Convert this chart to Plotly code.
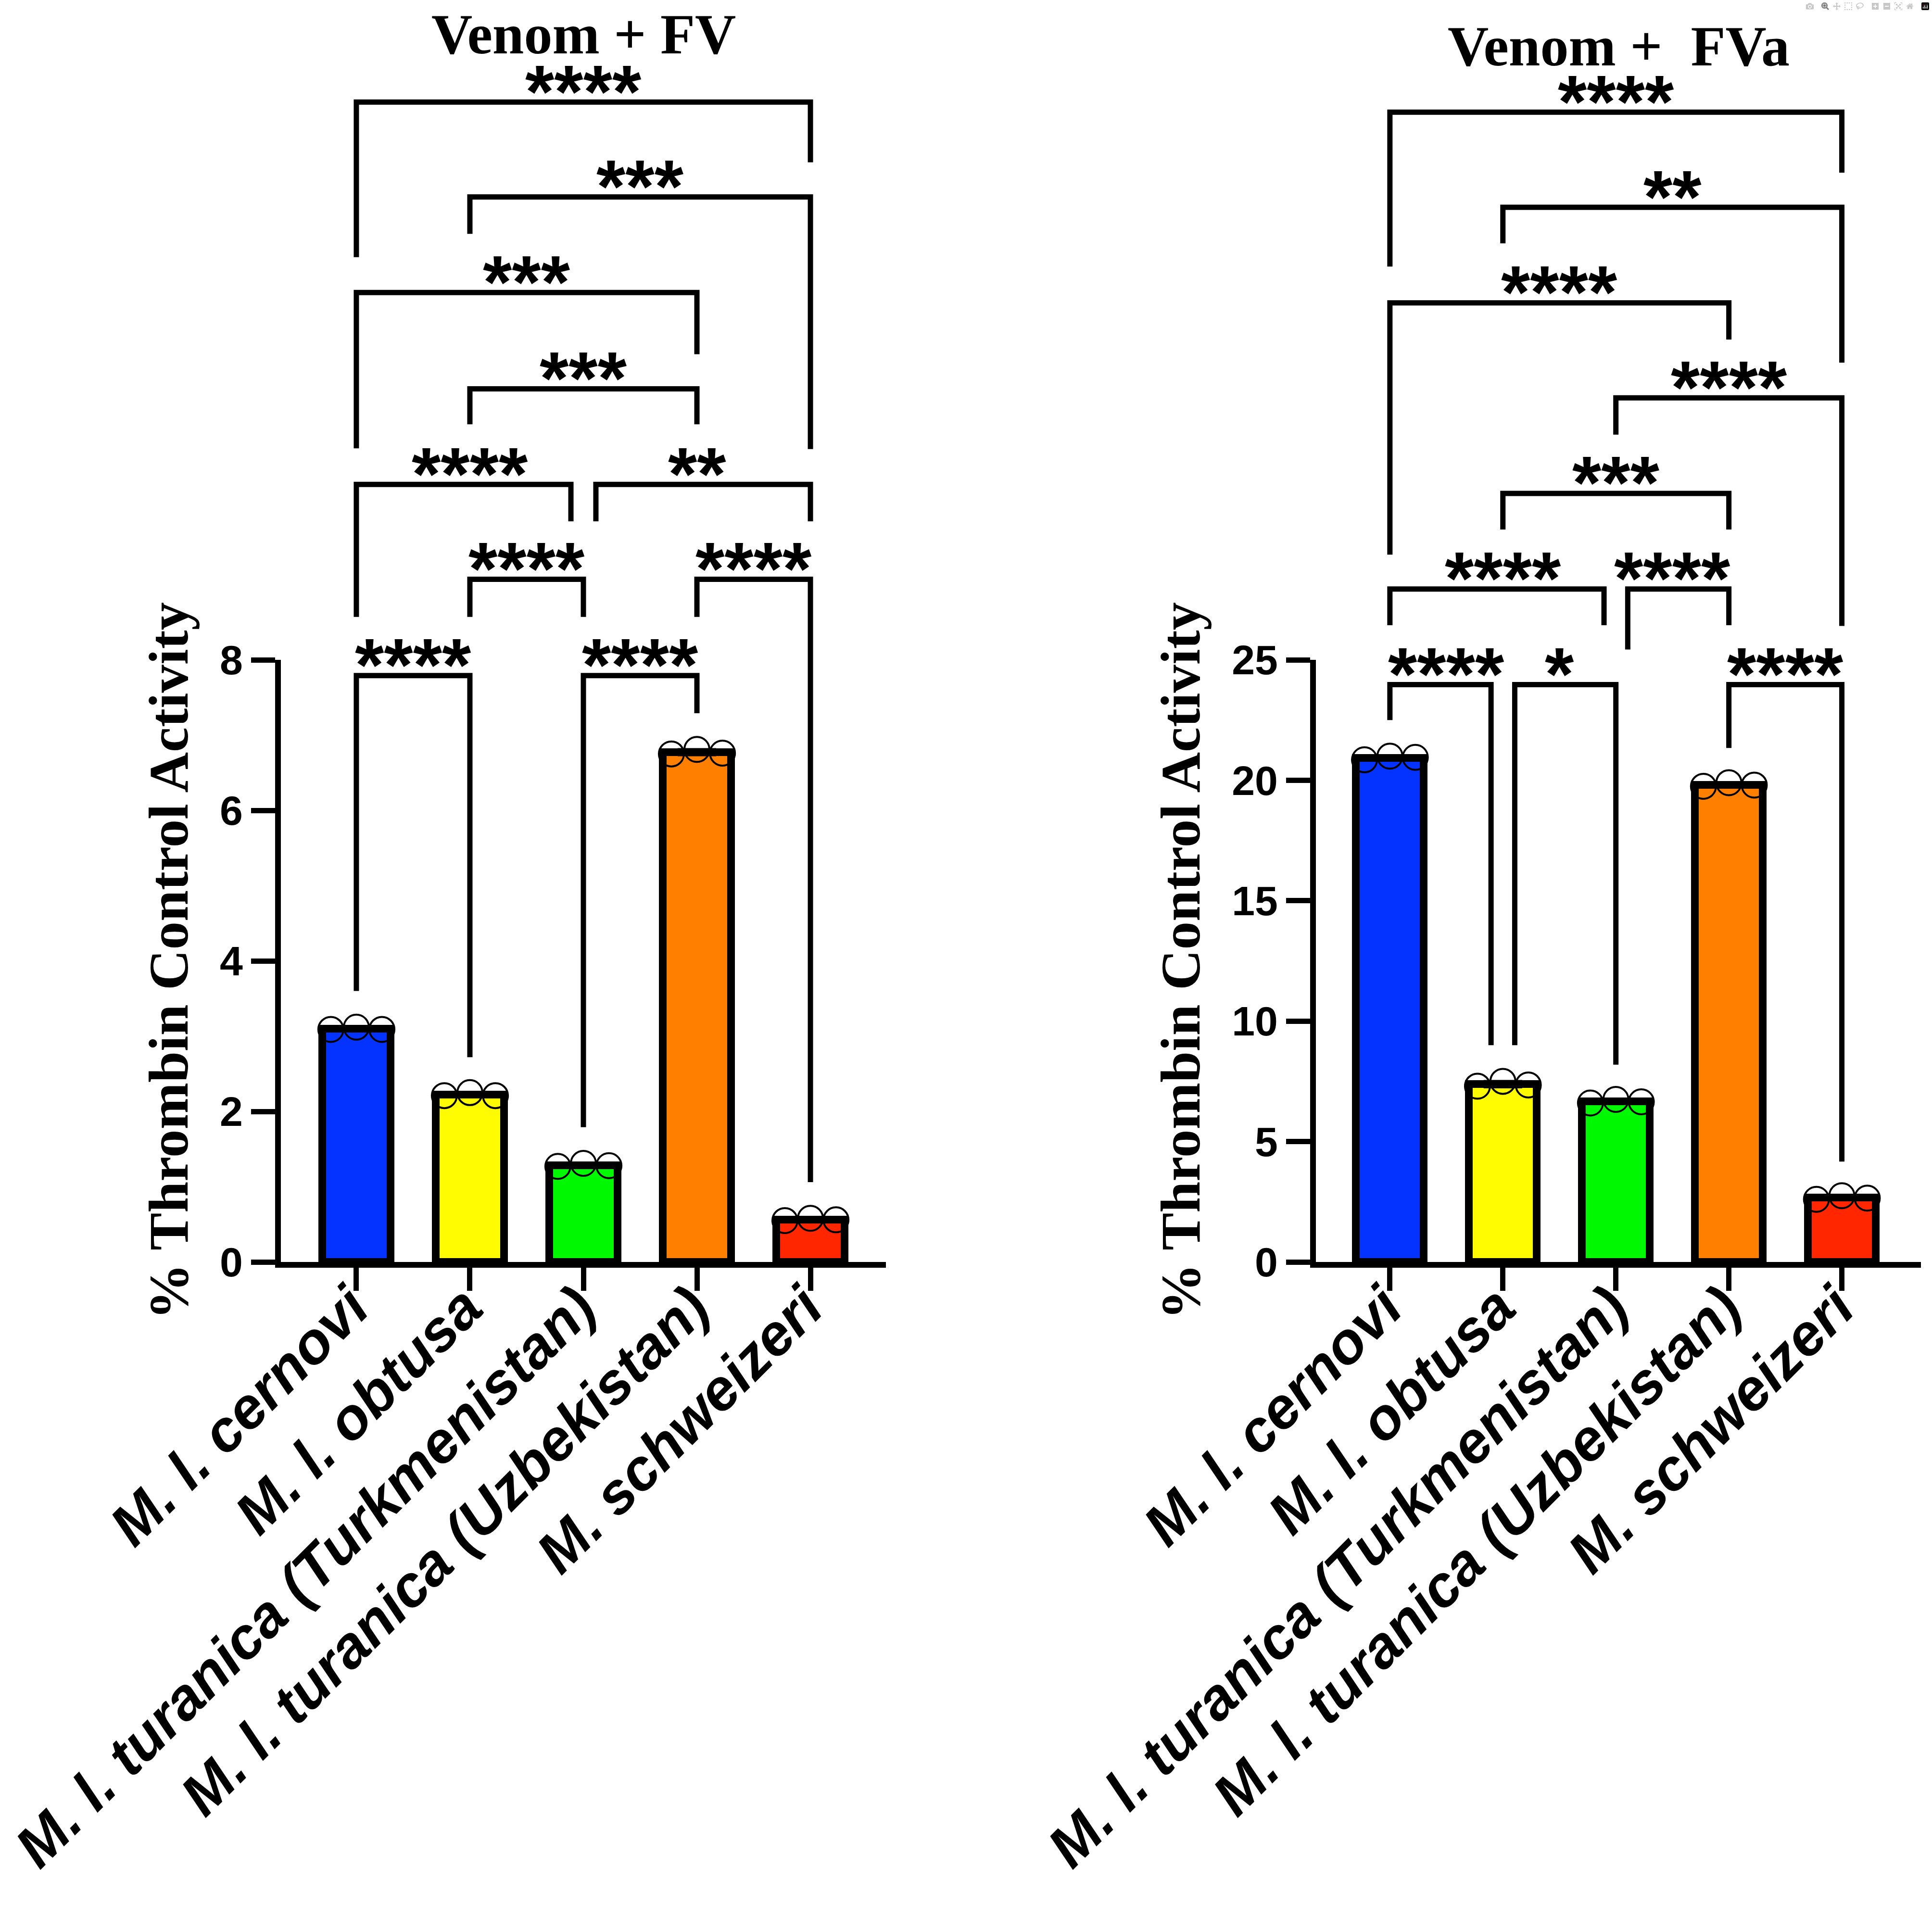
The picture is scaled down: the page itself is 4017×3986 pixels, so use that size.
import numpy as np
import plotly.graph_objects as go

W, H = 4017, 3986

species = ["M. l. cernovi", "M. l. obtusa", "M. l. turanica (Turkmenistan)",
           "M. l. turanica (Uzbekistan)", "M. schweizeri"]
colors = ["#0433FF", "#FFFB00", "#00F900", "#FF7F00", "#FF2600"]

# replicate readings, % thrombin control activity
fv_reps = [[3.09, 3.12, 3.09], [2.21, 2.25, 2.21], [1.27, 1.31, 1.28],
           [6.75, 6.81, 6.76], [0.55, 0.58, 0.56]]
fva_reps = [[20.85, 21.0, 20.95], [7.3, 7.5, 7.35], [6.6, 6.75, 6.65],
            [19.75, 19.9, 19.8], [2.6, 2.75, 2.65]]

# comparison brackets: (group a, group b, bar height, leg a end, leg b end, label, leg a shift, leg b shift)
fv_brackets = [
    (0, 4, 15.41, 13.35, 14.61, "****", 0, 0),
    (1, 4, 14.15, 13.66, 10.80, "***", 0, 0),
    (0, 3, 12.88, 10.81, 12.06, "***", 0, 0),
    (1, 3, 11.60, 11.13, 11.13, "***", 0, 0),
    (0, 2, 10.33, 8.57, 9.84, "****", 0, -0.11),
    (2, 4, 10.33, 9.84, 9.84, "**", 0.11, 0),
    (1, 2, 9.07, 8.57, 8.57, "****", 0, 0),
    (3, 4, 9.07, 8.57, 1.06, "****", 0, 0),
    (0, 1, 7.79, 3.60, 2.72, "****", 0, 0),
    (2, 3, 7.79, 1.79, 7.29, "****", 0, 0),
]
fva_brackets = [
    (0, 4, 47.74, 41.33, 45.23, "****", 0, 0),
    (1, 4, 43.79, 42.29, 37.34, "**", 0, 0),
    (0, 3, 39.82, 29.37, 38.30, "****", 0, 0),
    (2, 4, 35.88, 34.35, 26.41, "****", 0, 0),
    (1, 3, 31.91, 30.41, 30.41, "***", 0, 0),
    (0, 2, 27.94, 26.44, 26.44, "****", 0, -0.105),
    (2, 3, 27.94, 25.43, 26.44, "****", 0.105, 0),
    (0, 1, 23.97, 22.50, 9.00, "****", 0, -0.105),
    (1, 2, 23.97, 9.00, 8.19, "*", 0.105, 0),
    (3, 4, 23.97, 21.34, 4.17, "****", 0, 0),
]

fv_ticks = [0, 2, 4, 6, 8]
fva_ticks = [0, 5, 10, 15, 20, 25]

y_dom = [1 - 2624 / H, 1 - 1372 / H]
panels = [
    dict(reps=fv_reps, br=fv_brackets, ticks=fv_ticks, top=8, title="Venom + FV",
         dom=[584 / W, 1842 / W], rng=[-0.665, 4.665], xa="x", ya="y", ox="x3", oy="y3",
         title_y=1 - 72 / H, ytitle_x=350 / W),
    dict(reps=fva_reps, br=fva_brackets, ticks=fva_ticks, top=25, title="Venom +  FVa",
         dom=[2736 / W, 3994 / W], rng=[-0.655, 4.70], xa="x2", ya="y2", ox="x4", oy="y4",
         title_y=1 - 97 / H, ytitle_x=2454 / W),
]

fig = go.Figure()
jitter = [-0.225, 0.0, 0.225]
xs = np.arange(len(species))

for p in panels:
    reps = np.array(p["reps"])
    means = reps.mean(axis=1)
    sds = reps.std(axis=1, ddof=1)
    fig.add_trace(go.Bar(x=xs, y=means, width=0.6, marker=dict(color=colors, line=dict(color="black", width=16)),
                         error_y=dict(type="data", array=sds, color="black", thickness=7, width=40),
                         xaxis=p["xa"], yaxis=p["ya"], showlegend=False))
    for j, dx in enumerate(jitter):
        fig.add_trace(go.Scatter(x=xs + dx, y=reps[:, j], mode="markers", cliponaxis=False,
                                 marker=dict(symbol="circle-open", size=52, color="black", line=dict(width=4)),
                                 xaxis=p["xa"], yaxis=p["ya"], showlegend=False))
    for a, b, yb, ea, eb, lab, sa, sb in p["br"]:
        fig.add_trace(go.Scatter(x=[a + sa, a + sa, b + sb, b + sb], y=[ea, yb, yb, eb], mode="lines",
                                 line=dict(color="black", width=11), xaxis=p["ox"], yaxis=p["oy"],
                                 showlegend=False))
        fig.add_annotation(x=(a + b) / 2, y=yb, xref=p["ox"], yref=p["oy"], text=lab, showarrow=False,
                           xanchor="center", yanchor="middle", yshift=22,
                           font=dict(family="Liberation Sans", size=155, color="black", weight="bold"))
    fig.add_annotation(x=0.5, xref=p["xa"] + " domain", y=p["title_y"], yref="paper", text=p["title"],
                       showarrow=False, xanchor="center", yanchor="middle",
                       font=dict(family="Liberation Serif", size=118, color="black", weight="bold"))
    fig.add_annotation(x=p["ytitle_x"], xref="paper", y=0.5, yref=p["ya"] + " domain",
                       text="% Thrombin Control Activity", textangle=-90, showarrow=False,
                       xanchor="center", yanchor="middle",
                       font=dict(family="Liberation Serif", size=117, color="black", weight="bold"))

axis_common = dict(showgrid=False, zeroline=False, showline=True, linecolor="black", linewidth=12,
                   ticks="outside", tickcolor="black", tickwidth=11, automargin=False)
xfont = dict(family="Liberation Sans", size=121, color="black", weight="bold", style="italic")
yfont = dict(family="Liberation Sans", size=86, color="black", weight="bold")

layout = dict(width=W, height=H, margin=dict(l=0, r=0, t=0, b=0), plot_bgcolor="rgba(0,0,0,0)",
              paper_bgcolor="white", showlegend=False, bargap=0)
for i, p in enumerate(panels):
    xk = "xaxis" if i == 0 else "xaxis2"
    yk = "yaxis" if i == 0 else "yaxis2"
    layout[xk] = dict(domain=p["dom"], range=p["rng"], anchor=p["ya"], tickvals=list(xs), ticktext=species,
                      tickangle=-45, tickfont=xfont, ticklen=48, ticklabelstandoff=-85, ticklabelshift=-10,
                      ticklabeloverflow="allow", **axis_common)
    layout[yk] = dict(domain=y_dom, range=[0, p["top"]], anchor=p["xa"], tickvals=p["ticks"],
                      tickfont=yfont, ticklen=50, **axis_common)
    # invisible overlay axes with the same data scale, reaching to the top of the page, for the brackets
    top_ext = p["top"] * (1 - y_dom[0]) / (y_dom[1] - y_dom[0])
    layout["xaxis%d" % (i + 3)] = dict(domain=p["dom"], range=p["rng"], anchor=p["oy"], visible=False,
                                       automargin=False)
    layout["yaxis%d" % (i + 3)] = dict(domain=[y_dom[0], 1], range=[0, top_ext], anchor=p["ox"], visible=False,
                                       automargin=False)

fig.update_layout(**layout)
fig.write_html("out.html", post_script="document.body.style.margin='0';")
